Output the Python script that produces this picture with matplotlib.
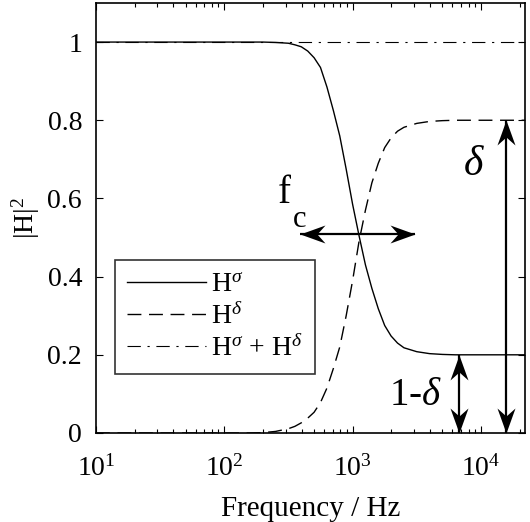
import matplotlib.pyplot as plt
from matplotlib.markers import MarkerStyle
from matplotlib.path import Path
from matplotlib.transforms import Affine2D

# values
freq = [10, 158, 200, 251, 316, 355, 398, 447, 501, 562, 631, 708, 794, 891,
        1000, 1122, 1259, 1413, 1585, 1778, 1995, 2239, 2512, 3162, 3981,
        5012, 6310, 22050]
h_sigma = [1.0, 1.0, 1.0, 0.999, 0.997, 0.993, 0.988, 0.977, 0.960, 0.935,
           0.885, 0.825, 0.76, 0.675, 0.585, 0.505, 0.43, 0.37, 0.318, 0.275,
           0.248, 0.23, 0.218, 0.208, 0.203, 0.201, 0.2, 0.2]
h_delta = [0.0, 0.0, 0.001, 0.004, 0.011, 0.017, 0.026, 0.038, 0.053, 0.078,
           0.115, 0.165, 0.22, 0.30, 0.39, 0.49, 0.57, 0.64, 0.69, 0.73,
           0.755, 0.772, 0.782, 0.792, 0.797, 0.799, 0.8, 0.8]
sum_freq = [10, 22050]
h_sum = [1.0, 1.0]

labels = [r'H$^\sigma$', r'H$^\delta$', r'H$^\sigma$ + H$^\delta$']
y_ticks = [0, 0.2, 0.4, 0.6, 0.8, 1]
y_tick_labels = ['0', '0.2', '0.4', '0.6', '0.8', '1']

plt.rcParams['font.family'] = 'Liberation Serif'
plt.rcParams['mathtext.fontset'] = 'custom'
plt.rcParams['mathtext.rm'] = 'Liberation Serif'
plt.rcParams['mathtext.it'] = 'Liberation Serif:italic'
plt.rcParams['mathtext.bf'] = 'Liberation Serif:bold'

# concave arrow head pointing up, tip at the origin
head_path = Path([(0, 0), (-0.36, -1.0), (0, -0.68), (0.36, -1.0), (0, 0)],
                 [Path.MOVETO, Path.LINETO, Path.LINETO, Path.LINETO,
                  Path.CLOSEPOLY])


def head(angle):
    return MarkerStyle(head_path, transform=Affine2D().rotate_deg(angle))


def double_arrow(ax, p0, p1, angle0, angle1):
    ax.plot([p0[0], p1[0]], [p0[1], p1[1]], color='black', lw=1.6,
            solid_capstyle='butt')
    ax.plot([p0[0]], [p0[1]], marker=head(angle0), markersize=36,
            color='black', markeredgewidth=0, linestyle='none')
    ax.plot([p1[0]], [p1[1]], marker=head(angle1), markersize=36,
            color='black', markeredgewidth=0, linestyle='none')


fig = plt.figure(figsize=(5.30, 5.22), dpi=100)
ax = fig.add_axes([0.181, 0.1705, 0.8096, 0.8238])

ax.plot(freq, h_sigma, color='black', lw=1.0, label=labels[0])
ax.plot(freq, h_delta, color='black', lw=1.0, linestyle=(0, (10, 5.5)),
        label=labels[1])
ax.plot(sum_freq, h_sum, color='black', lw=0.8,
        linestyle=(0, (12, 6, 2, 6)), label=labels[2])

ax.set_xscale('log')
ax.set_xlim(10, 22050)
ax.set_ylim(0, 1.1)
ax.set_yticks(y_ticks)
ax.set_yticklabels(y_tick_labels)
ax.set_xticks([10, 100, 1000, 10000])

ax.tick_params(which='both', direction='in', top=True, right=True,
               labelsize=20, width=0.8)
ax.tick_params(which='major', length=5)
ax.tick_params(axis='y', which='major', pad=10)
ax.tick_params(axis='x', which='major', pad=16)
ax.tick_params(which='minor', length=3)
for sp in ax.spines.values():
    sp.set_linewidth(1.2)

ax.set_xlabel('Frequency / Hz', fontsize=21, labelpad=10)
ax.set_ylabel(r'|H|$^2$', fontsize=20, labelpad=4)

double_arrow(ax, (390, 0.51), (3090, 0.51), 90, -90)
double_arrow(ax, (15700, 0.0), (15700, 0.8), 180, 0)
double_arrow(ax, (6760, 0.0), (6760, 0.2), 180, 0)

ax.text(263, 0.588, 'f', fontsize=28, ha='left', va='baseline')
ax.text(340, 0.527, 'c', fontsize=22, ha='left', va='baseline')
ax.text(8900, 0.685, r'$\delta$', fontsize=30, ha='center', va='center')
ax.text(3100, 0.097, r'1-$\delta$', fontsize=28, ha='center', va='center')

leg = ax.legend(loc='lower left', bbox_to_anchor=(0.044, 0.137),
                fontsize=20, frameon=True, fancybox=False, handlelength=2.85,
                handletextpad=0.15, borderpad=0.45, labelspacing=0.2,
                borderaxespad=0)
leg.get_frame().set_edgecolor('black')
leg.get_frame().set_linewidth(1.2)

fig.savefig('out.png', dpi=100)
